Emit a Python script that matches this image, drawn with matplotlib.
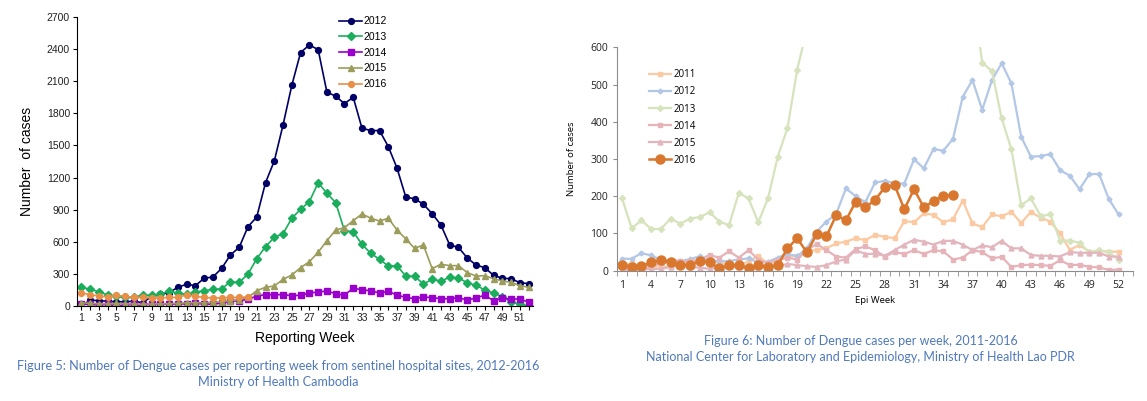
import numpy as np
import matplotlib
matplotlib.use("Agg")
from matplotlib import pyplot as plt
from matplotlib.ticker import MultipleLocator, FixedLocator

# ---- Cambodia, sentinel hospital sites (reporting week 1-52)
weeks_kh = list(range(1, 53))
kh_2012 = [0, 55, 50, 45, 40, 40, 45, 30, 90, 110,
           125, 175, 203, 190, 259, 271, 352, 477, 548, 741,
           832, 1152, 1355, 1692, 2063, 2368, 2439, 2395, 1998, 1960,
           1891, 1950, 1661, 1639, 1639, 1489, 1287, 1016, 1003, 950,
           863, 757, 570, 548, 449, 383, 358, 287, 259, 255,
           218, 209]
kh_2013 = [175, 156, 134, 103, 90, 80, 85, 100, 100, 110,
           140, 120, 110, 130, 143, 155, 160, 227, 220, 299,
           442, 554, 642, 676, 820, 904, 975, 1152, 1053, 966,
           704, 694, 576, 492, 436, 374, 374, 280, 277, 206,
           249, 234, 268, 262, 218, 193, 150, 121, 87, 37,
           19, 0]
kh_2014 = [20, 15, 10, 15, 0, 10, 15, 5, 20, 20,
           15, 20, 20, 25, 20, 15, 30, 45, 50, 62,
           93, 106, 106, 106, 96, 101, 121, 131, 140, 115,
           101, 168, 150, 143, 121, 137, 101, 81, 68, 84,
           78, 68, 68, 78, 56, 75, 101, 50, 71, 65,
           65, 37]
kh_2015 = [30, 25, 20, 20, 25, 20, 20, 15, 20, 20,
           20, 25, 30, 30, 30, 35, 40, 50, 60, 80,
           143, 175, 187, 249, 290, 358, 414, 502, 610, 710,
           732, 797, 860, 820, 794, 820, 710, 626, 539, 570,
           349, 390, 377, 377, 312, 280, 283, 255, 234, 221,
           190, 174]
kh_2016 = [125, 105, 95, 85, 100, 90, 80, 80, 75, 75,
           80, 80, 105, 90, 80, 75, 75, 80, 80, 85]

# ---- Lao PDR, epi week 1-52
weeks_la = list(range(1, 53))
la_2011 = [15, 20, 12, 10, 12, 10, 18, 20, 22, 30,
           20, 18, 15, 25, 40, 18, 25, 38, 40, 54,
           55, 60, 73, 78, 87, 82, 96, 91, 87, 133,
           130, 154, 150, 130, 138, 188, 127, 117, 151, 146,
           158, 128, 158, 142, 132, 100, 56, 69, 51, 53,
           51, 51]
la_2012 = [32, 32, 47, 41, 29, 27, 26, 31, 39, 29,
           25, 26, 30, 33, 22, 24, 35, 45, 39, 60,
           105, 132, 152, 221, 200, 184, 237, 241, 235, 234,
           299, 275, 327, 322, 354, 467, 512, 432, 512, 557,
           503, 360, 306, 308, 313, 270, 255, 219, 259, 260,
           193, 151]
la_2013 = [195, 114, 135, 112, 112, 140, 126, 140, 144, 157,
           132, 122, 209, 194, 130, 194, 306, 383, 540, 650,
           800, 950, 1100, 1200, 1300, 1350, 1400, 1380, 1300, 1250,
           1200, 1100, 1000, 950, 900, 850, 750, 559, 536, 409,
           326, 176, 194, 147, 151, 81, 81, 75, 49, 56,
           49, 29]
la_2014 = [5, 8, 10, 12, 20, 30, 25, 25, 30, 42,
           35, 52, 35, 55, 30, 20, 30, 35, 30, 55,
           72, 55, 38, 35, 58, 65, 55, 38, 50, 45,
           55, 45, 55, 52, 30, 35, 55, 50, 33, 37,
           10, 15, 16, 15, 13, 28, 15, 16, 10, 9,
           2, 3]
la_2015 = [0, 2, 3, 5, 5, 10, 15, 10, 8, 5,
           10, 12, 10, 8, 10, 10, 12, 18, 15, 12,
           10, 15, 25, 30, 55, 45, 45, 40, 55, 70,
           83, 78, 70, 80, 80, 70, 55, 68, 63, 80,
           60, 60, 42, 40, 40, 38, 50, 48, 48, 48,
           38, 38]
la_2016 = [15, 11, 13, 22, 29, 23, 15, 15, 26, 23,
           6, 14, 14, 8, 14, 11, 15, 60, 87, 49,
           98, 92, 149, 135, 185, 170, 190, 224, 230, 165,
           219, 170, 187, 201, 203]

caption_color = "#5079bb"

fig = plt.figure(figsize=(11.47, 4.01), dpi=100)

# ---------------- left chart ----------------
ax1 = fig.add_axes([0.0671, 0.2369, 0.3976, 0.7207])
left_series = [
    ("2012", kh_2012, "#000066", "o"),
    ("2013", kh_2013, "#1aae5c", "D"),
    ("2014", kh_2014, "#9900cc", "s"),
    ("2015", kh_2015, "#9c9c5c", "^"),
    ("2016", kh_2016, "#e88f48", "o"),
]
for label, vals, col, mk in left_series:
    ms = 4.2 if mk != "D" else 3.8
    ax1.plot(weeks_kh[:len(vals)], vals, color=col, marker=mk, markersize=ms,
             linewidth=1.2, label=label)

ax1.set_xlim(0.5, 52.5)
ax1.set_ylim(0, 2700)
ax1.yaxis.set_major_locator(MultipleLocator(300))
ax1.xaxis.set_major_locator(FixedLocator(list(range(1, 53, 2))))
ax1.xaxis.set_minor_locator(FixedLocator(list(range(2, 53, 2))))
for s in ["top", "right"]:
    ax1.spines[s].set_visible(False)
ax1.tick_params(axis="both", which="both", labelsize=7.5, length=3, width=0.8,
                direction="out", colors="black", labelcolor="#222222", pad=2)
ax1.tick_params(axis="x", which="minor", length=3)
ax1.set_xlabel("Reporting Week", fontsize=10, family="Liberation Sans", labelpad=6)
ax1.set_ylabel("Number  of cases", fontsize=10, family="Liberation Sans", labelpad=9)
for t in ax1.get_xticklabels() + ax1.get_yticklabels():
    t.set_family("Liberation Sans")
ax1.legend(loc="upper left", bbox_to_anchor=(0.555, 1.035), frameon=False,
           handlelength=2.2, handletextpad=0.1, labelspacing=0.55,
           prop={"family": "Liberation Sans", "size": 7.5})

fig.text(0.2425, 0.087, "Figure 5: Number of Dengue cases per reporting week from sentinel hospital sites, 2012-2016",
         ha="center", va="center", fontsize=9.1, color=caption_color, family="Lato")
fig.text(0.2425, 0.047, "Ministry of Health Cambodia",
         ha="center", va="center", fontsize=9.1, color=caption_color, family="Lato")

# ---------------- right chart ----------------
ax2 = fig.add_axes([0.538, 0.325, 0.4499, 0.557])
right_series = [
    ("2011", la_2011, "#fbcaa2", "s", 2.5),
    ("2012", la_2012, "#b3c7e6", "D", 2.5),
    ("2013", la_2013, "#d6e3bc", "D", 3.0),
    ("2014", la_2014, "#e6b3b8", "s", 2.5),
    ("2015", la_2015, "#e3b5bd", "^", 3.5),
    ("2016", la_2016, "#d9772e", "o", 6.5),
]
for label, vals, col, mk, ms in right_series:
    ax2.plot(weeks_la[:len(vals)], vals, color=col, marker=mk, markersize=ms,
             linewidth=1.6 if label != "2016" else 1.8, label=label)

ax2.set_xlim(0.5, 53.5)
ax2.set_ylim(0, 600)
ax2.yaxis.set_major_locator(MultipleLocator(100))
ax2.xaxis.set_major_locator(FixedLocator(list(range(1, 53, 3))))
ax2.xaxis.set_minor_locator(FixedLocator([w + 0.5 for w in range(0, 54)]))
for s in ["top", "right"]:
    ax2.spines[s].set_visible(False)
for s in ["left", "bottom"]:
    ax2.spines[s].set_color("#8c8c8c")
ax2.tick_params(axis="x", which="major", length=0, labelsize=7.5, pad=7,
                labelcolor="#222222")
ax2.tick_params(axis="x", which="minor", length=3.5, color="#8c8c8c", direction="out")
ax2.tick_params(axis="y", which="major", length=3, color="#8c8c8c", labelsize=7.5,
                labelcolor="#222222", direction="out")
for t in ax2.get_xticklabels() + ax2.get_yticklabels():
    t.set_family("Open Sans")
ax2.set_xlabel("Epi Week", fontsize=6.8, family="Open Sans", labelpad=3)
ax2.set_ylabel("Number of cases", fontsize=6.8, family="Open Sans", labelpad=10)
ax2.legend(loc="upper left", bbox_to_anchor=(0.045, 0.94), frameon=False,
           handlelength=2.3, handletextpad=0.2, labelspacing=0.62,
           prop={"family": "Open Sans", "size": 7})

fig.text(0.7505, 0.150, "Figure 6: Number of Dengue cases per week, 2011-2016",
         ha="center", va="center", fontsize=9.0, color=caption_color, family="Lato")
fig.text(0.7505, 0.110, "National Center for Laboratory and Epidemiology, Ministry of Health Lao PDR",
         ha="center", va="center", fontsize=9.0, color=caption_color, family="Lato")

fig.savefig("out.png", dpi=100)
